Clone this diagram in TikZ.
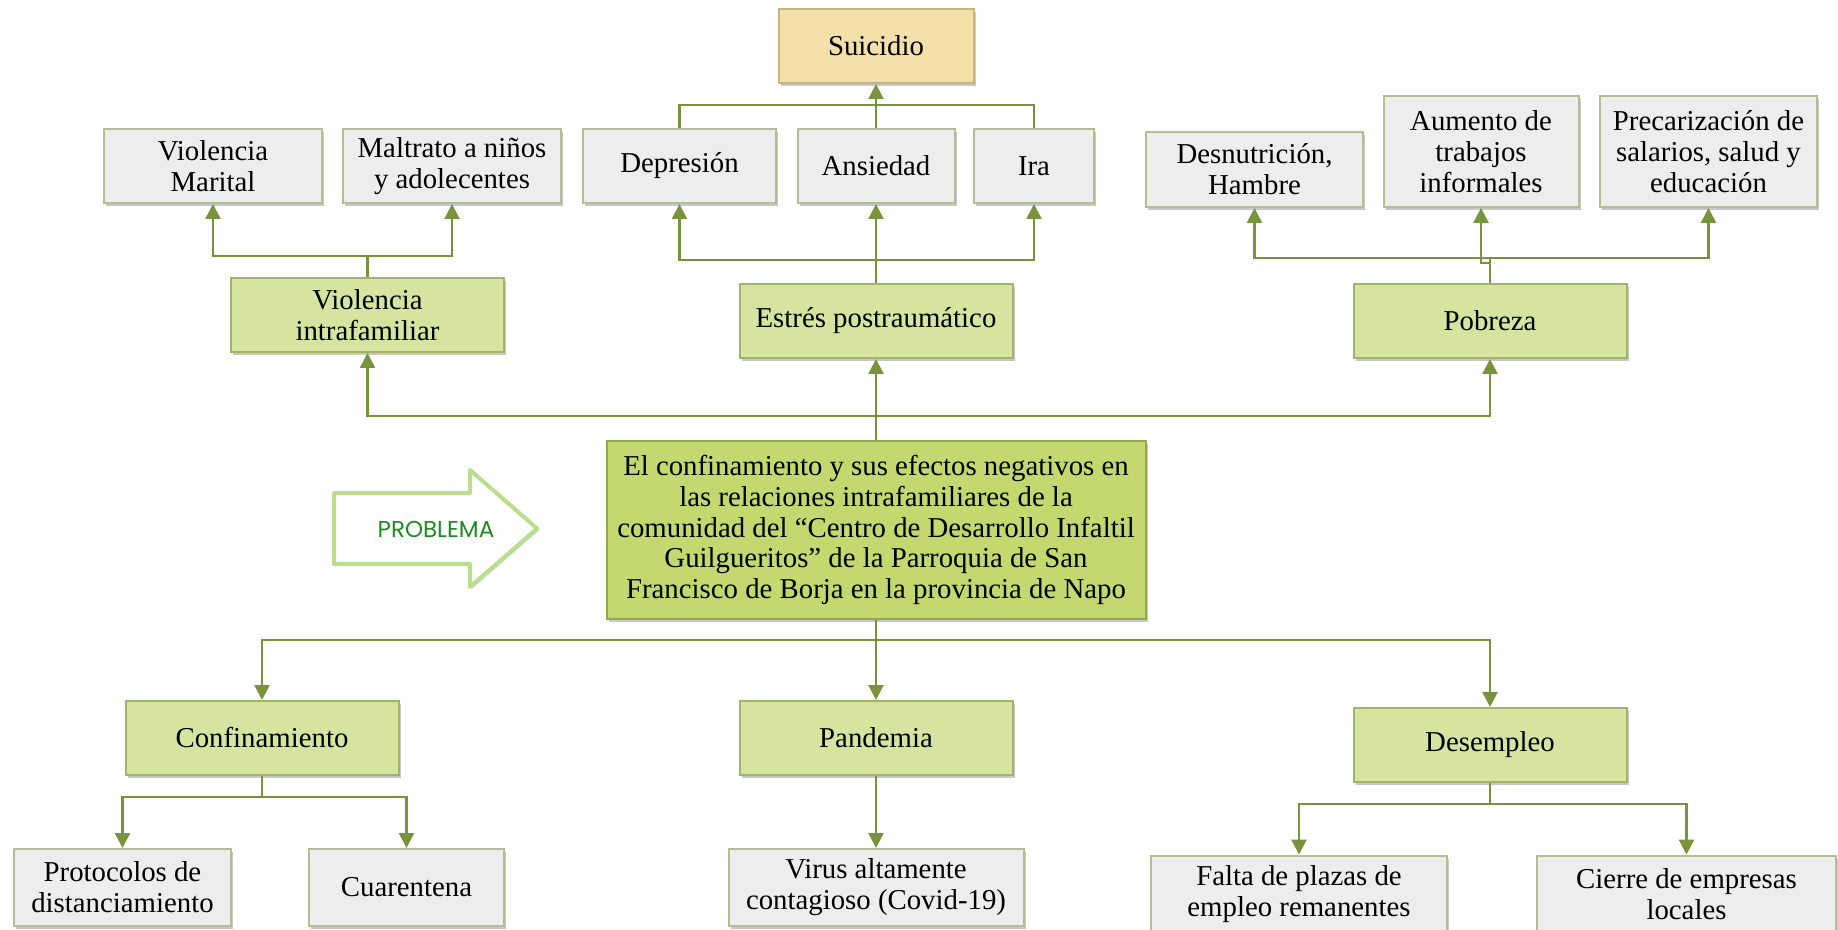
\documentclass[tikz,border=0pt]{standalone}
\usepackage{fontspec}
\setmainfont{Liberation Serif}
\newfontfamily\probfont{Poppins}
\usepackage{tikz}
\usetikzlibrary{shapes}
\usetikzlibrary{positioning}
\usetikzlibrary{arrows.meta}
\usetikzlibrary{shadows}
\definecolor{lineo}{HTML}{77933C}
\definecolor{fillg}{HTML}{D7E4A0}
\definecolor{bordg}{HTML}{A3B46A}
\definecolor{fillc}{HTML}{C3D86E}
\definecolor{bordc}{HTML}{93A653}
\definecolor{fillw}{HTML}{EDEDED}
\definecolor{bordw}{HTML}{B3BE93}
\definecolor{fills}{HTML}{F3DFA8}
\definecolor{bords}{HTML}{C4B67C}
\definecolor{probline}{HTML}{B9DE90}
\definecolor{probtxt}{HTML}{1E8C1E}
\tikzset{
    mybox/.style = {rectangle, line width=1pt, align=center, inner sep=2pt,
        font=\fontsize{14.4}{15.4}\selectfont,
        drop shadow={shadow xshift=1.2pt, shadow yshift=-1.5pt, opacity=0.22, fill=black}},
    boxw/.style = {mybox, draw=bordw, fill=fillw, minimum height=37pt},
    boxg/.style = {mybox, draw=bordg, fill=fillg, minimum width=136.5pt, minimum height=37pt},
    boxc/.style = {mybox, draw=bordc, fill=fillc, minimum width=269.5pt, minimum height=89pt},
    boxs/.style = {mybox, draw=bords, fill=fills, minimum width=97.5pt, minimum height=37pt},
    edgeo/.style = {-{Triangle[length=7.5pt,width=7.5pt]}, line width=1.3pt, draw=lineo},
    edgel/.style = {line width=1.3pt, draw=lineo},
    probarrow/.style = {line width=2pt, draw=probline, fill=white, line join=round,
        drop shadow={shadow xshift=1pt, shadow yshift=-1pt, opacity=0.15, fill=black}},
    probtext/.style = {font=\probfont\fontsize{11.5}{13}\selectfont, text=probtxt, inner sep=0pt}
}

\begin{document}
\begin{tikzpicture}[x=0.5pt, y=-0.5pt]
\useasboundingbox (0,0) rectangle (1838,930);
% efectos
\node[boxs] at (876,46) (suic) {Suicidio};
\node[boxw, minimum width=109pt] at (213,166) (vmar) {Violencia\\Marital};
\node[boxw, minimum width=109pt] at (452,166) (malt) {Maltrato a niños\\y adolecentes};
\node[boxw, minimum width=96.5pt] at (679.5,166) (depr) {Depresión};
\node[boxw, minimum width=78.5pt] at (876,166) (ansi) {Ansiedad};
\node[boxw, minimum width=60pt] at (1034,166) (ira) {Ira};
\node[boxw, minimum width=108.5pt, minimum height=37.5pt] at (1254.5,169.5) (desn) {Desnutrición,\\Hambre};
\node[boxw, minimum width=97.5pt, minimum height=55.5pt] at (1481,151.5) (aume) {Aumento de\\trabajos\\informales};
\node[boxw, minimum width=108.5pt, minimum height=55.5pt] at (1708.5,151.5) (prec) {Precarización de\\salarios, salud y\\educación};
\node[boxg] at (367.5,315) (vint) {Violencia\\intrafamiliar};
\node[boxg] at (876,321) (estr) {Estrés postraumático};
\node[boxg] at (1490,321) (pobr) {Pobreza};
% problema
\node[boxc] at (876,530) (cent) {El confinamiento y sus efectos negativos en\\las relaciones intrafamiliares de la\\comunidad del “Centro de Desarrollo Infaltil\\Guilgueritos” de la Parroquia de San\\Francisco de Borja en la provincia de Napo};
\draw[probarrow] (334,493) -- (470,493) -- (470,470) -- (537,528.5) -- (470,587) -- (470,564) -- (334,564) -- cycle;
\node[probtext] at (436,529) (prob) {PROBLEMA};
% causas
\node[boxg] at (262,738) (conf) {Confinamiento};
\node[boxg] at (876,738) (pand) {Pandemia};
\node[boxg] at (1490,745) (dese) {Desempleo};
\node[boxw, minimum width=108.5pt, minimum height=38.5pt] at (122.5,887.5) (prot) {Protocolos de\\distanciamiento};
\node[boxw, minimum width=97.5pt, minimum height=38.5pt] at (406.5,887.5) (cuar) {Cuarentena};
\node[boxw, minimum width=147.5pt, minimum height=38.5pt] at (876,887.5) (viru) {Virus altamente\\contagioso (Covid-19)};
\node[boxw, minimum width=148pt, minimum height=38.5pt] at (1299,894) (falt) {Falta de plazas de\\empleo remanentes};
\node[boxw, minimum width=149.5pt, minimum height=38.5pt] at (1686.5,894) (cier) {Cierre de empresas\\locales};
%
\coordinate (sbus) at (876,105);
\draw[edgel] (depr.north) |- (sbus) -| (ira.north);
\draw[edgeo] (ansi.north) -- (suic.south);
\draw[edgeo] (vint.north) -- (vint.north |- 0,256) -| (vmar.south);
\draw[edgeo] (vint.north) -- (vint.north |- 0,256) -| (malt.south);
\draw[edgeo] (estr.north) -- (estr.north |- 0,260) -| (depr.south);
\draw[edgeo] (estr.north) -- (ansi.south);
\draw[edgeo] (estr.north) -- (estr.north |- 0,260) -| (ira.south);
\draw[edgeo] (pobr.north) -- (pobr.north |- 0,258) -| (desn.south);
\draw[edgeo] (pobr.north) -- (pobr.north |- 0,263) -| (aume.south);
\draw[edgeo] (pobr.north) -- (pobr.north |- 0,258) -| (prec.south);
\draw[edgeo] (cent.north) -- (cent.north |- 0,416) -| (vint.south);
\draw[edgeo] (cent.north) -- (estr.south);
\draw[edgeo] (cent.north) -- (cent.north |- 0,416) -| (pobr.south);
\draw[edgeo] (cent.south) -- (cent.south |- 0,640) -| (conf.north);
\draw[edgeo] (cent.south) -- (pand.north);
\draw[edgeo] (cent.south) -- (cent.south |- 0,640) -| (dese.north);
\draw[edgeo] (conf.south) -- (conf.south |- 0,797) -| (prot.north);
\draw[edgeo] (conf.south) -- (conf.south |- 0,797) -| (cuar.north);
\draw[edgeo] (pand.south) -- (viru.north);
\draw[edgeo] (dese.south) -- (dese.south |- 0,804) -| (falt.north);
\draw[edgeo] (dese.south) -- (dese.south |- 0,804) -| (cier.north);
\end{tikzpicture}
\end{document}
